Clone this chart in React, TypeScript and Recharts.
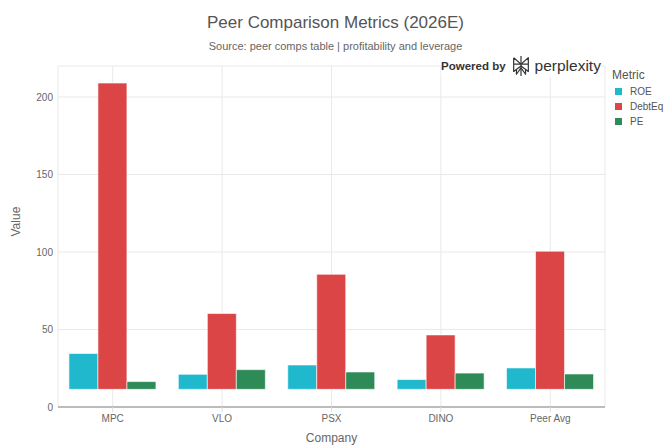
import React from 'react'
import { BarChart, Bar, XAxis, YAxis, CartesianGrid } from 'recharts'

// Peer comparison values per company (2026E)
const companies = ['MPC', 'VLO', 'PSX', 'DINO', 'Peer Avg']
const roe = [34.5, 21.1, 27.1, 17.7, 25.2]
const debtEq = [209, 60.3, 85.6, 46.5, 100.5]
const pe = [16.4, 24.1, 22.6, 21.9, 21.3]

// bars rise from this floor rather than from zero
const barFloor = 11.4

const yTicks = [0, 50, 100, 150, 200]

const metrics = [
  { key: 'roe', name: 'ROE', color: '#1FB8CD' },
  { key: 'debtEq', name: 'DebtEq', color: '#DB4545' },
  { key: 'pe', name: 'PE', color: '#2E8B57' },
]

const rows = companies.map((company, i) => ({
  company,
  roe: [barFloor, roe[i]],
  debtEq: [barFloor, debtEq[i]],
  pe: [barFloor, pe[i]],
}))

const FONT = '"Liberation Sans", Arial, Helvetica, sans-serif'

function MetricLegend() {
  return (
    <div style={{ position: 'absolute', top: 68, left: 612, fontFamily: FONT, color: '#555' }}>
      <div style={{ fontSize: 12, marginBottom: 2 }}>Metric</div>
      {metrics.map((m) => (
        <div key={m.key} style={{ display: 'flex', alignItems: 'center', height: 15, fontSize: 10, paddingLeft: 3 }}>
          <span style={{ width: 7, height: 7, background: m.color, display: 'inline-block', marginRight: 8 }} />
          {m.name}
        </div>
      ))}
    </div>
  )
}

function PerplexityMark() {
  return (
    <svg width={22} height={22} viewBox="0 0 24 24" style={{ display: 'block' }}>
      <g fill="none" stroke="#333" strokeWidth={1.3} strokeLinejoin="round">
        <path d="M12 1 V23" />
        <path d="M4 3 L12 10 L20 3 V10 H4 V3" />
        <path d="M4 10 V18 L12 12 L20 18 V10" />
        <path d="M12 14 L7 21 V16 M12 14 L17 21 V16" />
      </g>
    </svg>
  )
}

export default function App() {
  return (
    <div style={{ position: 'absolute', left: 0, top: 0, width: 671, height: 445, background: '#fff', fontFamily: FONT }}>
      <div style={{ position: 'absolute', top: 13, width: 671, textAlign: 'center', fontSize: 17, color: '#555' }}>
        Peer Comparison Metrics (2026E)
      </div>
      <div style={{ position: 'absolute', top: 40, width: 671, textAlign: 'center', fontSize: 11, color: '#666' }}>
        Source: peer comps table | profitability and leverage
      </div>
      <div style={{ position: 'absolute', top: 55, left: 441, display: 'flex', alignItems: 'center', zIndex: 2, background: '#fff' }}>
        <span style={{ fontSize: 11.5, fontWeight: 'bold', color: '#333', marginRight: 4 }}>Powered by</span>
        <PerplexityMark />
        <span style={{ fontSize: 15.5, color: '#333', marginLeft: 3 }}>perplexity</span>
      </div>
      <MetricLegend />
      <BarChart
        width={671}
        height={445}
        data={rows}
        margin={{ top: 66, right: 66, bottom: 0, left: 0 }}
        barCategoryGap="10%"
        barGap={0}
      >
        <CartesianGrid stroke="#e9e9e9" strokeWidth={1} />
        <XAxis
          dataKey="company"
          height={38}
          axisLine={{ stroke: '#aaa', strokeWidth: 1.5 }}
          tickLine={{ stroke: '#ddd' }}
          tickSize={5}
          tickMargin={3}
          tick={{ fill: '#666', fontSize: 10, fontFamily: FONT }}
          label={{ value: 'Company', position: 'insideBottom', offset: 0, dy: -3, fill: '#666', fontSize: 12, fontFamily: FONT }}
        />
        <YAxis
          width={58}
          domain={[0, 220]}
          ticks={yTicks}
          allowDataOverflow
          axisLine={false}
          tickLine={false}
          tickSize={0}
          tickMargin={5}
          tick={{ fill: '#666', fontSize: 10, fontFamily: FONT }}
          label={{ value: 'Value', angle: -90, position: 'insideLeft', offset: 16, fill: '#666', fontSize: 12, fontFamily: FONT }}
        />
        {metrics.map((m) => (
          <Bar
            key={m.key}
            dataKey={m.key}
            name={m.name}
            fill={m.color}
            stroke="rgba(255,255,255,0.6)"
            strokeWidth={1}
            isAnimationActive={false}
          />
        ))}
      </BarChart>
    </div>
  )
}
